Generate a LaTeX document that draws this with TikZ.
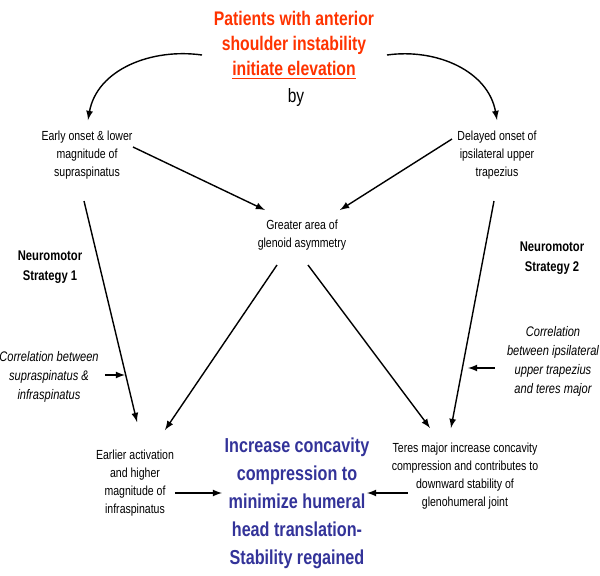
\documentclass[tikz,border=0pt]{standalone}
\usepackage{fontspec}
\setmainfont{Liberation Sans}[FakeStretch=0.8]
\usetikzlibrary{arrows}
\definecolor{titlered}{HTML}{FF3300}
\definecolor{goalblue}{HTML}{333399}

\begin{document}
\begin{tikzpicture}[x=0.02cm,y=-0.02cm]

\tikzstyle{txt} = [align=center, inner sep=0pt, font=\fontsize{7.5}{10.3}\selectfont]
\tikzstyle{note} = [align=center, inner sep=0pt, font=\fontsize{7.9}{10.8}\selectfont\itshape]
\tikzstyle{strat} = [align=center, inner sep=0pt, font=\fontsize{8}{11.3}\selectfont\bfseries]
\tikzstyle{arr} = [-latex, thick]
\useasboundingbox (0,0) rectangle (600,576);

\node (title) [align=center, inner sep=0pt, text=titlered, font=\fontsize{11.2}{14.2}\selectfont\bfseries] at (294,45) {Patients with anterior\\shoulder instability\\\underline{initiate elevation}};
\node (by) [inner sep=0pt, font=\fontsize{11}{13}\selectfont] at (296,97) {by};
\node (early) [txt] at (87,155) {Early onset \& lower\\magnitude of\\supraspinatus};
\node (delayed) [txt] at (497,155) {Delayed onset of\\ipsilateral upper\\trapezius};
\node (greater) [txt] at (302,235) {Greater area of\\glenoid asymmetry};
\node (neuro1) [strat] at (50,267) {Neuromotor\\Strategy 1};
\node (neuro2) [strat] at (552,258) {Neuromotor\\Strategy 2};
\node (corr1) [note] at (49,377) {Correlation between\\supraspinatus \&\\infraspinatus};
\node (corr2) [note] at (553,361) {Correlation\\between ipsilateral\\upper trapezius\\and teres major};
\node (earlier) [txt] at (135,483) {Earlier activation\\and higher\\magnitude of\\infraspinatus};
\node (teres) [txt] at (465,476) {Teres major increase concavity\\compression and contributes to\\downward stability of\\glenohumeral joint};
\node (goal) [align=center, inner sep=0pt, text=goalblue, font=\fontsize{11.5}{15.9}\selectfont\bfseries] at (297,503) {Increase concavity\\compression to\\minimize humeral\\head translation-\\Stability regained};

\draw[arr] ([shift={(-92,10)}]title.center) to[out=172,in=80] ([shift={(1,-35)}]early.center);
\draw[arr] ([shift={(93,10)}]title.center) to[out=8,in=100] ([shift={(0,-35)}]delayed.center);
\draw[arr] ([shift={(46,-8)}]early.center) -- ([shift={(-37,-25)}]greater.center);
\draw[arr] ([shift={(-45,-16)}]delayed.center) -- ([shift={(38,-25)}]greater.center);
\draw[arr] ([shift={(-3,46)}]early.center) -- ([shift={(2,-61)}]earlier.center);
\draw[arr] ([shift={(-3,46)}]delayed.center) -- ([shift={(-14,-48)}]teres.center);
\draw[arr] ([shift={(-25,30)}]greater.center) -- ([shift={(30,-53)}]earlier.center);
\draw[arr] ([shift={(6,30)}]greater.center) -- ([shift={(-35,-48)}]teres.center);
\draw[arr] ([shift={(56,-2)}]corr1.center) -- ++(20,0);
\draw[arr] ([shift={(-58,7)}]corr2.center) -- ++(-27,0);
\draw[arr] ([shift={(40,10)}]earlier.center) -- ([shift={(-75,-10)}]goal.center);
\draw[arr] ([shift={(-57,17)}]teres.center) -- ([shift={(70,-10)}]goal.center);
\end{tikzpicture}
\end{document}
